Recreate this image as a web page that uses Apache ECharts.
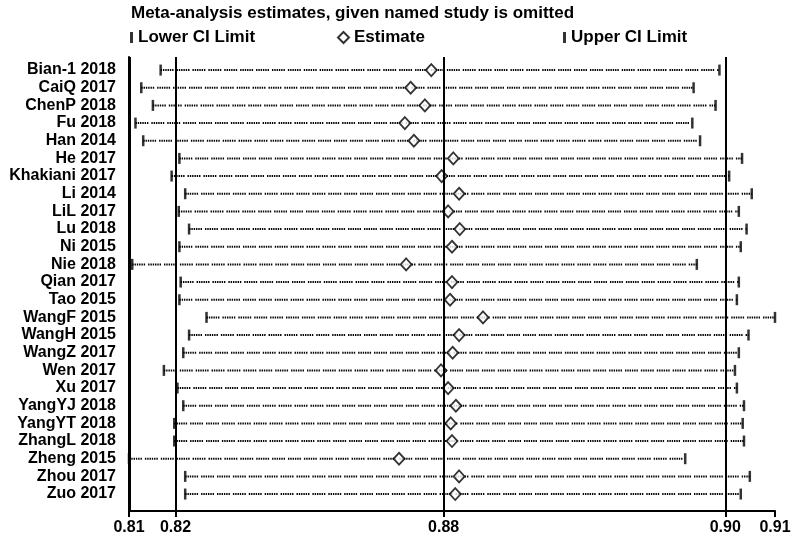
<!DOCTYPE html>
<html>
<head>
<meta charset="utf-8">
<title>Meta-analysis estimates</title>
<script src="https://cdn.jsdelivr.net/npm/echarts@6/dist/echarts.min.js"></script>
<style>
    html, body { margin: 0; padding: 0; background: #fff; }
    #chart { width: 800px; height: 541px; }
</style>
</head>
<body>
<div id="chart"></div>
<script>
const studies = ['Bian-1 2018', 'CaiQ 2017', 'ChenP 2018', 'Fu 2018', 'Han 2014', 'He 2017', 'Khakiani 2017',
    'Li 2014', 'LiL 2017', 'Lu 2018', 'Ni 2015', 'Nie 2018', 'Qian 2017', 'Tao 2015', 'WangF 2015', 'WangH 2015',
    'WangZ 2017', 'Wen 2017', 'Xu 2017', 'YangYJ 2018', 'YangYT 2018', 'ZhangL 2018', 'Zheng 2015', 'Zhou 2017', 'Zuo 2017']

const lowerCI = [0.8149, 0.8119, 0.8137, 0.8110, 0.8122, 0.8178, 0.8166, 0.8187, 0.8177, 0.8193, 0.8178, 0.8105, 0.8180,
    0.8178, 0.8220, 0.8193, 0.8184, 0.8154, 0.8175, 0.8184, 0.8170, 0.8170, 0.8100, 0.8187, 0.8187]
const estimate = [0.8568, 0.8536, 0.8558, 0.8527, 0.8541, 0.8602, 0.8584, 0.8611, 0.8594, 0.8612, 0.8600, 0.8529, 0.8600,
    0.8597, 0.8648, 0.8611, 0.8601, 0.8583, 0.8594, 0.8606, 0.8598, 0.8600, 0.8518, 0.8611, 0.8605]
const upperCI = [0.9014, 0.8974, 0.9008, 0.8972, 0.8984, 0.9049, 0.9029, 0.9064, 0.9044, 0.9056, 0.9047, 0.8979, 0.9044,
    0.9041, 0.9100, 0.9059, 0.9044, 0.9038, 0.9041, 0.9052, 0.9050, 0.9052, 0.8961, 0.9061, 0.9047]

// axis positions of the labelled ticks and the text printed under them
const tickValues = [0.81, 0.8172, 0.8587, 0.9023, 0.91]
const tickLabels = ['0.81', '0.82', '0.88', '0.90', '0.91']
// left frame line + lower limit, pooled estimate, upper limit
const refLines = [0.8101, 0.8172, 0.8587, 0.9023]

const font = "'Liberation Sans', Arial, sans-serif"
const rows = studies.map((s, i) => i)

const chart = echarts.init(document.getElementById('chart'))

const legendBase = {
    top: 29,
    padding: 0,
    selectedMode: false,
    textStyle: { fontFamily: font, fontSize: 17, fontWeight: 'bold', color: '#000' }
}

chart.setOption({
    backgroundColor: '#fff',
    animation: false,
    title: {
        text: 'Meta-analysis estimates, given named study is omitted',
        left: 131,
        top: 5,
        padding: 0,
        textStyle: { fontFamily: font, fontSize: 17, fontWeight: 'bold', color: '#000' }
    },
    legend: [
        Object.assign({}, legendBase, {
            left: 130,
            itemWidth: 3,
            itemHeight: 11,
            data: [{ name: 'Lower CI Limit', icon: 'rect' }]
        }),
        Object.assign({}, legendBase, {
            left: 337,
            itemWidth: 11,
            itemHeight: 11,
            data: [{ name: 'Estimate', icon: 'diamond' }]
        }),
        Object.assign({}, legendBase, {
            left: 563,
            itemWidth: 3,
            itemHeight: 11,
            data: [{ name: 'Upper CI Limit', icon: 'rect' }]
        })
    ],
    grid: { left: 129, right: 25, top: 57, bottom: 30 },
    xAxis: {
        type: 'value',
        position: 'bottom',
        min: 0.81,
        max: 0.91,
        splitLine: { show: false },
        axisLine: { show: true, onZero: false, lineStyle: { color: '#000', width: 2 } },
        axisTick: {
            show: true,
            length: 6,
            customValues: tickValues,
            lineStyle: { color: '#000', width: 2 }
        },
        axisLabel: {
            customValues: tickValues,
            margin: 9,
            fontFamily: font,
            fontSize: 16,
            fontWeight: 'bold',
            color: '#000',
            formatter: v => tickLabels[tickValues.indexOf(v)]
        }
    },
    yAxis: {
        type: 'value',
        position: 'left',
        inverse: true,
        min: -0.74,
        max: 24.96,
        splitLine: { show: false },
        axisLine: { show: true, onZero: false, lineStyle: { color: '#000', width: 2 } },
        axisTick: { show: false },
        axisLabel: {
            customValues: rows,
            margin: 13,
            fontFamily: font,
            fontSize: 16,
            fontWeight: 'bold',
            color: '#000',
            formatter: v => studies[v]
        }
    },
    series: [
        {
            // dotted line from lower to upper limit
            type: 'custom',
            clip: false,
            data: rows.map(i => [lowerCI[i], i, upperCI[i]]),
            encode: { x: [0, 2], y: 1 },
            renderItem(params, api) {
                const a = api.coord([api.value(0), api.value(1)])
                const b = api.coord([api.value(2), api.value(1)])
                return {
                    type: 'line',
                    shape: { x1: a[0], y1: a[1], x2: b[0], y2: b[1] },
                    style: {
                        stroke: '#000',
                        lineWidth: 2,
                        lineDash: [1.4, 0.9, 1.4, 0.9, 1.4, 0.9, 1.4, 0.9, 1.4, 0.9, 1.4, 3]
                    }
                }
            },
            z: 2
        },
        {
            name: 'Lower CI Limit',
            type: 'scatter',
            clip: false,
            symbol: 'rect',
            symbolSize: [2.5, 11],
            itemStyle: { color: '#000' },
            data: rows.map(i => [lowerCI[i], i]),
            markLine: {
                silent: true,
                symbol: 'none',
                precision: 4,
                label: { show: false },
                lineStyle: { color: '#000', width: 2, type: 'solid' },
                data: refLines.map(v => ({ xAxis: v }))
            },
            z: 3
        },
        {
            name: 'Upper CI Limit',
            type: 'scatter',
            clip: false,
            symbol: 'rect',
            symbolSize: [2.5, 11],
            itemStyle: { color: '#000' },
            data: rows.map(i => [upperCI[i], i]),
            z: 3
        },
        {
            name: 'Estimate',
            type: 'scatter',
            symbol: 'diamond',
            symbolSize: [11, 12],
            itemStyle: { color: '#fff', borderColor: '#000', borderWidth: 1.8 },
            data: rows.map(i => [estimate[i], i]),
            z: 4
        }
    ]
})
</script>
</body>
</html>
